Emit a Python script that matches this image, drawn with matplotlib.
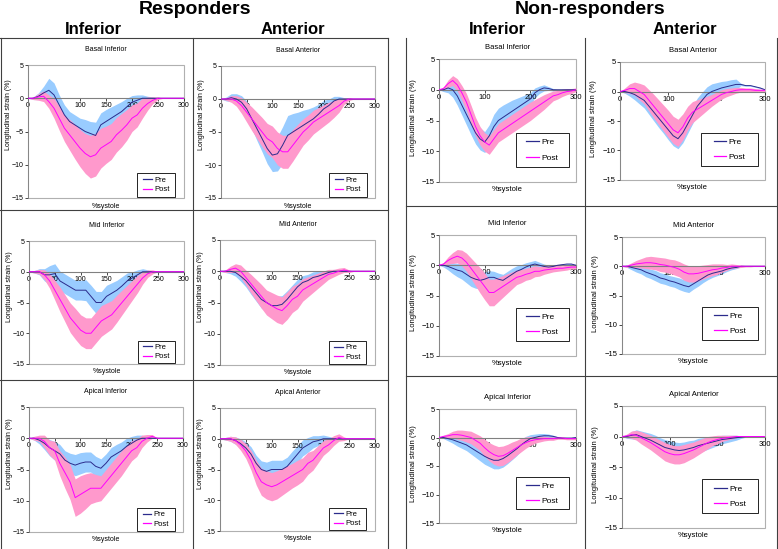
import matplotlib
matplotlib.use("Agg")
import matplotlib.pyplot as plt
from matplotlib.lines import Line2D
from matplotlib.patches import Rectangle
import numpy as np

plt.rcParams['font.family'] = ['Liberation Sans', 'DejaVu Sans']

# ---------------- data ----------------
systole = [0, 10, 20, 30, 40, 50, 60, 70, 80, 90, 100, 110, 120, 130, 140, 150,
           160, 170, 180, 190, 200, 210, 220, 230, 240, 250, 260, 270, 280, 290, 300]
r_xticks = [0, 50, 100, 150, 200, 250, 300]
n_xticks = [0, 100, 200, 300]
yticks = [5, 0, -5, -10, -15]

# Responders - Basal Inferior
r_bi_pre = [0, 0, 0.3, 0.8, 1.2, 0.5, -1.0, -2.5, -3.5, -4.0, -4.5, -5.0, -5.3, -5.6, -4.0, -3.5,
            -3.0, -2.5, -2.0, -1.3, -0.6, -0.3, 0, 0, 0, 0, 0, 0, 0, 0, 0]
r_bi_pre_sd = [0, 0.2, 0.5, 1.0, 1.8, 1.8, 1.5, 1.5, 1.5, 1.5, 1.5, 1.8, 1.8, 2.0, 1.8, 1.8,
               1.7, 1.6, 1.5, 1.3, 1.0, 0.8, 0.5, 0.3, 0.2, 0, 0, 0, 0, 0, 0]
r_bi_post = [0, 0, 0.2, 0.3, -0.5, -1.5, -3.0, -4.5, -5.5, -6.5, -7.5, -8.3, -8.8, -8.5, -7.5, -7.0,
             -6.5, -5.5, -4.8, -4.0, -3.0, -2.5, -1.5, -0.8, -0.3, 0, 0, 0, 0, 0, 0]
r_bi_post_sd = [0, 0.2, 0.5, 0.8, 1.0, 1.5, 1.8, 2.0, 2.3, 2.6, 2.8, 3.0, 3.2, 3.2, 3.0, 2.8,
                2.7, 2.6, 2.5, 2.3, 2.0, 1.8, 1.5, 1.0, 0.5, 0.2, 0, 0, 0, 0, 0]

# Responders - Basal Anterior
r_ba_pre = [0, 0, 0.2, 0, -0.5, -1.5, -3.0, -4.5, -6.0, -7.5, -8.5, -8.3, -7.0, -5.5, -5.0, -4.5,
            -4.0, -3.5, -3.0, -2.3, -1.5, -1.0, -0.3, 0, 0, 0, 0, 0, 0, 0, 0]
r_ba_pre_sd = [0, 0.3, 0.6, 0.8, 1.0, 1.2, 1.5, 1.8, 2.0, 2.3, 2.5, 2.6, 2.8, 3.0, 2.8, 2.5,
               2.3, 2.0, 1.8, 1.5, 1.3, 1.0, 0.7, 0.4, 0.2, 0, 0, 0, 0, 0, 0]
r_ba_post = [0, 0, 0, -0.3, -1.0, -2.0, -3.0, -4.0, -5.0, -6.0, -6.5, -7.5, -8.0, -8.0, -7.0, -6.0,
             -5.0, -4.3, -3.5, -3.0, -2.5, -2.0, -1.5, -1.0, -0.3, 0, 0, 0, 0, 0, 0]
r_ba_post_sd = [0, 0.2, 0.5, 0.8, 1.2, 1.5, 1.8, 2.0, 2.2, 2.3, 2.4, 2.5, 2.5, 2.5, 2.4, 2.2,
                2.0, 1.9, 1.8, 1.7, 1.6, 1.5, 1.3, 1.0, 0.5, 0.2, 0, 0, 0, 0, 0]

# Responders - Mid Inferior
r_mi_pre = [0, 0, 0, -0.5, -0.5, -0.3, -1.5, -2.0, -2.5, -3.0, -3.0, -3.0, -4.0, -5.0, -5.0, -4.0,
            -3.5, -3.0, -2.3, -1.5, -1.0, -0.5, 0, 0, 0, 0, 0, 0, 0, 0, 0]
r_mi_pre_sd = [0, 0.2, 0.5, 1.0, 1.5, 1.6, 1.6, 1.6, 1.6, 1.6, 1.6, 1.7, 1.8, 1.8, 1.8, 1.8,
               1.7, 1.6, 1.5, 1.3, 1.0, 0.8, 0.5, 0.3, 0, 0, 0, 0, 0, 0, 0]
r_mi_post = [0, 0, 0, -0.5, -1.5, -3.0, -4.5, -6.0, -7.5, -8.5, -9.5, -10.0, -10.0, -9.0, -8.0, -7.5,
             -7.0, -6.0, -5.0, -4.0, -3.0, -2.0, -1.0, -0.3, 0, 0, 0, 0, 0, 0, 0]
r_mi_post_sd = [0, 0.2, 0.4, 0.8, 1.2, 1.6, 2.0, 2.2, 2.4, 2.5, 2.5, 2.5, 2.5, 2.5, 2.5, 2.4,
                2.3, 2.2, 2.0, 1.8, 1.6, 1.4, 1.0, 0.6, 0.3, 0, 0, 0, 0, 0, 0]

# Responders - Mid Anterior
r_ma_pre = [0, 0, 0, -0.2, -0.8, -1.5, -2.5, -3.5, -4.5, -5.0, -5.5, -5.5, -5.3, -4.5, -3.5, -2.5,
            -1.8, -1.5, -1.0, -0.8, -0.5, -0.2, 0, 0, 0, 0, 0, 0, 0, 0, 0]
r_ma_pre_sd = [0, 0.2, 0.4, 0.6, 0.8, 1.0, 1.2, 1.3, 1.4, 1.5, 1.5, 1.5, 1.4, 1.4, 1.3, 1.2,
               1.1, 1.0, 0.9, 0.8, 0.6, 0.4, 0.3, 0.2, 0, 0, 0, 0, 0, 0, 0]
r_ma_post = [0, 0, 0.3, 0.5, 0, -1.0, -2.0, -3.0, -4.0, -5.0, -5.5, -6.0, -6.3, -5.5, -4.5, -4.0,
             -3.0, -2.5, -2.0, -1.5, -1.0, -0.5, -0.3, 0, 0.2, 0, 0, 0, 0, 0, 0]
r_ma_post_sd = [0, 0.2, 0.5, 0.7, 1.0, 1.2, 1.5, 1.7, 1.9, 2.0, 2.1, 2.2, 2.2, 2.2, 2.1, 2.0,
                1.8, 1.6, 1.4, 1.2, 1.0, 0.8, 0.6, 0.5, 0.4, 0.2, 0, 0, 0, 0, 0]

# Responders - Apical Inferior
r_ai_pre = [0, 0, -0.3, -0.8, -1.5, -2.0, -2.5, -3.5, -4.0, -4.3, -4.0, -3.8, -3.8, -4.5, -4.8, -4.0,
            -3.0, -2.5, -2.0, -1.3, -0.8, -0.3, 0, 0, 0, 0, 0, 0, 0, 0, 0]
r_ai_pre_sd = [0, 0.3, 0.6, 1.0, 1.3, 1.5, 1.5, 1.5, 1.6, 1.7, 1.7, 1.6, 1.6, 1.6, 1.5, 1.5,
               1.5, 1.5, 1.4, 1.3, 1.1, 0.8, 0.5, 0.2, 0, 0, 0, 0, 0, 0, 0]
r_ai_post = [0, 0, 0, -0.5, -1.5, -2.0, -4.0, -5.5, -7.0, -9.5, -9.0, -8.5, -8.0, -8.0, -8.0, -7.0,
             -6.0, -5.0, -4.0, -3.0, -2.0, -1.5, -0.5, 0, 0.3, 0, 0, 0, 0, 0, 0]
r_ai_post_sd = [0, 0.3, 0.5, 1.0, 1.2, 1.5, 2.0, 2.5, 2.8, 3.0, 3.0, 2.8, 2.5, 2.2, 2.0, 2.0,
                2.0, 2.0, 2.0, 1.8, 1.6, 1.4, 1.0, 0.6, 0.3, 0, 0, 0, 0, 0, 0]

# Responders - Apical Anterior
r_aa_pre = [0, 0, 0, -0.3, -0.8, -1.5, -2.5, -4.0, -5.0, -5.3, -5.0, -5.0, -5.0, -4.5, -3.5, -2.5,
            -1.5, -1.0, -0.5, -0.3, 0, 0, 0, 0, 0, 0, 0, 0, 0, 0, 0]
r_aa_pre_sd = [0, 0.2, 0.4, 0.6, 0.8, 1.0, 1.2, 1.3, 1.4, 1.5, 1.5, 1.5, 1.5, 1.5, 1.5, 1.4,
               1.3, 1.2, 1.0, 0.8, 0.6, 0.4, 0.2, 0, 0, 0, 0, 0, 0, 0, 0]
r_aa_post = [0, 0, 0, -0.3, -1.0, -2.0, -3.5, -5.5, -7.0, -7.5, -7.8, -7.5, -7.0, -6.5, -6.0, -5.5,
             -5.0, -4.0, -3.5, -2.5, -1.5, -1.0, -0.3, 0.2, 0, 0, 0, 0, 0, 0, 0]
r_aa_post_sd = [0, 0.2, 0.4, 0.6, 0.9, 1.2, 1.6, 2.0, 2.2, 2.3, 2.3, 2.3, 2.2, 2.1, 2.0, 2.0,
                1.9, 1.8, 1.6, 1.4, 1.2, 1.0, 0.8, 0.6, 0.3, 0, 0, 0, 0, 0, 0]

# Non-responders - Basal Inferior
n_bi_pre = [0, 0, 0.3, 0, -1.0, -2.5, -4.0, -5.5, -7.0, -8.0, -8.5, -7.5, -6.0, -5.0, -4.5, -4.0,
            -3.5, -3.0, -2.5, -2.0, -1.5, -0.5, 0, 0.3, 0.2, 0, 0, 0, 0, 0, 0]
n_bi_pre_sd = [0, 0.3, 0.8, 1.2, 1.5, 1.6, 1.7, 1.8, 1.8, 1.8, 1.7, 1.8, 2.0, 2.0, 2.0, 1.9,
               1.8, 1.6, 1.4, 1.2, 1.0, 0.8, 0.6, 0.5, 0.3, 0.2, 0, 0, 0, 0, 0]
n_bi_post = [0, 0.2, 1.0, 1.5, 0.8, -0.5, -2.0, -4.0, -6.0, -7.5, -8.5, -9.0, -8.0, -7.0, -6.5, -6.0,
             -5.5, -5.0, -4.5, -4.0, -3.5, -3.0, -2.5, -2.0, -1.5, -1.0, -0.8, -0.5, -0.3, -0.2, 0]
n_bi_post_sd = [0, 0.3, 0.6, 0.8, 1.0, 1.2, 1.4, 1.5, 1.5, 1.5, 1.5, 1.5, 1.5, 1.5, 1.5, 1.5,
                1.5, 1.5, 1.5, 1.5, 1.5, 1.4, 1.3, 1.2, 1.0, 0.8, 0.7, 0.6, 0.5, 0.4, 0.3]

# Non-responders - Basal Anterior
n_ba_pre = [0, 0, -0.2, -0.5, -1.0, -1.5, -2.5, -3.5, -4.5, -5.5, -6.5, -7.5, -8.0, -7.0, -5.5, -4.0,
            -2.5, -1.5, -0.5, 0, 0.3, 0.6, 0.8, 1.0, 1.2, 1.2, 1.0, 1.0, 0.8, 0.6, 0.3]
n_ba_pre_sd = [0, 0.3, 0.6, 0.9, 1.1, 1.3, 1.4, 1.5, 1.6, 1.6, 1.7, 1.7, 1.7, 1.7, 1.6, 1.5,
               1.4, 1.4, 1.3, 1.3, 1.2, 1.1, 1.0, 1.0, 0.9, 0.2, 0.1, 0.1, 0.1, 0.1, 0.1]
n_ba_post = [0, 0.2, 0.5, 0.5, 0, -0.5, -1.5, -2.5, -3.5, -4.5, -5.5, -6.5, -7.0, -6.0, -4.5, -3.5,
             -3.0, -2.5, -2.0, -1.5, -1.0, -0.5, -0.2, 0, 0.2, 0.3, 0.3, 0.3, 0.2, 0.2, 0.2]
n_ba_post_sd = [0, 0.4, 0.8, 1.1, 1.4, 1.6, 1.8, 2.0, 2.1, 2.2, 2.3, 2.3, 2.3, 2.2, 2.0, 1.8,
                1.6, 1.4, 1.2, 1.0, 0.9, 0.8, 0.7, 0.6, 0.5, 0.4, 0.3, 0.3, 0.3, 0.2, 0.2]

# Non-responders - Mid Inferior
n_mi_pre = [0, 0, -0.2, -0.5, -0.8, -1.0, -1.5, -2.0, -2.3, -2.5, -2.3, -2.0, -2.0, -2.3, -2.5, -2.0,
            -1.5, -1.0, -0.7, -0.3, 0, 0.2, 0, -0.2, -0.3, -0.2, 0, 0.1, 0.2, 0.2, 0]
n_mi_pre_sd = [0, 0.3, 0.6, 0.9, 1.1, 1.3, 1.4, 1.5, 1.5, 1.4, 1.2, 1.1, 1.0, 1.0, 1.0, 1.0,
               1.0, 0.9, 0.8, 0.7, 0.6, 0.6, 0.5, 0.4, 0.3, 0.2, 0.1, 0.1, 0.1, 0.1, 0]
n_mi_post = [0, 0.2, 0.8, 1.2, 1.5, 1.2, 0.5, -0.5, -1.5, -2.5, -3.5, -4.5, -4.5, -4.0, -3.5, -3.0,
             -2.5, -2.0, -1.8, -1.5, -1.3, -1.0, -1.0, -0.8, -0.7, -0.6, -0.5, -0.5, -0.4, -0.3, -0.3]
n_mi_post_sd = [0, 0.3, 0.6, 0.9, 1.1, 1.3, 1.5, 1.7, 1.9, 2.1, 2.2, 2.2, 2.2, 2.0, 1.8, 1.6,
                1.4, 1.2, 1.1, 1.0, 1.0, 0.9, 0.8, 0.7, 0.6, 0.5, 0.5, 0.4, 0.4, 0.3, 0.3]

# Non-responders - Mid Anterior
n_ma_pre = [0, 0, -0.2, -0.4, -0.6, -1.0, -1.3, -1.6, -2.0, -2.2, -2.5, -2.7, -3.0, -3.3, -3.5, -3.0,
            -2.5, -2.0, -1.5, -1.2, -1.0, -0.8, -0.5, -0.3, -0.2, 0, 0, 0, 0, 0, 0]
n_ma_pre_sd = [0, 0.2, 0.4, 0.6, 0.7, 0.8, 0.8, 0.9, 0.9, 0.9, 0.9, 0.9, 1.0, 1.0, 1.0, 0.9,
               0.9, 0.8, 0.8, 0.7, 0.6, 0.5, 0.4, 0.3, 0.2, 0.1, 0, 0, 0, 0, 0]
n_ma_post = [0, 0, 0.2, 0.4, 0.5, 0.6, 0.6, 0.5, 0.3, 0.2, 0, -0.2, -0.5, -1.0, -1.3, -1.3,
             -1.2, -1.0, -0.8, -0.6, -0.5, -0.3, -0.2, 0, 0, 0, 0, 0, 0, 0, 0]
n_ma_post_sd = [0, 0.2, 0.4, 0.6, 0.8, 1.0, 1.1, 1.1, 1.2, 1.2, 1.2, 1.3, 1.3, 1.4, 1.4, 1.4,
                1.3, 1.2, 1.1, 1.0, 0.9, 0.7, 0.5, 0.4, 0.3, 0.2, 0.1, 0.1, 0, 0, 0]

# Non-responders - Apical Inferior
n_ai_pre = [0, 0, -0.2, -0.4, -0.7, -1.0, -1.3, -1.8, -2.3, -2.8, -3.3, -3.7, -4.0, -4.0, -3.7, -3.2,
            -2.6, -2.0, -1.3, -0.7, -0.2, 0, 0.2, 0.3, 0.3, 0.2, 0, -0.1, -0.1, -0.1, 0]
n_ai_pre_sd = [0, 0.2, 0.4, 0.6, 0.8, 0.9, 1.0, 1.1, 1.2, 1.3, 1.4, 1.4, 1.5, 1.5, 1.5, 1.4,
               1.3, 1.2, 1.0, 0.9, 0.7, 0.6, 0.5, 0.4, 0.3, 0.2, 0.1, 0.1, 0.1, 0.1, 0]
n_ai_post = [0, 0.2, 0.3, 0.5, 0.5, 0.4, 0.2, 0, -0.5, -1.0, -1.8, -2.5, -3.0, -3.3, -3.2, -2.8,
             -2.3, -1.8, -1.3, -0.9, -0.6, -0.4, -0.3, -0.2, -0.2, -0.2, -0.1, -0.1, -0.2, -0.2, -0.2]
n_ai_post_sd = [0, 0.2, 0.4, 0.6, 0.8, 0.9, 1.0, 1.1, 1.2, 1.3, 1.5, 1.6, 1.7, 1.7, 1.7, 1.6,
                1.5, 1.3, 1.2, 1.0, 0.8, 0.6, 0.5, 0.4, 0.3, 0.3, 0.2, 0.2, 0.2, 0.2, 0.2]

# Non-responders - Apical Anterior
n_aa_pre = [0, 0, 0.2, 0.3, 0, -0.3, -0.6, -1.0, -1.4, -1.8, -2.0, -2.2, -2.3, -2.2, -2.0, -1.8,
            -1.5, -1.3, -1.1, -0.9, -0.7, -0.5, -0.4, -0.3, -0.2, -0.1, 0, 0, 0, 0, 0]
n_aa_pre_sd = [0, 0.3, 0.6, 0.8, 0.9, 1.0, 1.1, 1.2, 1.2, 1.3, 1.3, 1.3, 1.3, 1.3, 1.3, 1.2,
               1.2, 1.1, 1.0, 0.9, 0.8, 0.7, 0.6, 0.5, 0.4, 0.2, 0.1, 0, 0, 0, 0]
n_aa_post = [0, 0.1, 0.3, 0.2, -0.2, -0.6, -1.0, -1.5, -2.0, -2.5, -2.8, -3.0, -3.0, -2.8, -2.5, -2.2,
             -1.8, -1.4, -1.0, -0.7, -0.5, -0.3, -0.2, -0.1, 0, 0, 0, 0, 0, 0, 0]
n_aa_post_sd = [0, 0.3, 0.6, 0.8, 1.0, 1.1, 1.2, 1.3, 1.4, 1.5, 1.5, 1.5, 1.5, 1.5, 1.4, 1.3,
                1.2, 1.1, 1.0, 0.8, 0.7, 0.5, 0.4, 0.3, 0.2, 0.1, 0, 0, 0, 0, 0]

# ---------------- styling ----------------
W, H = 778, 549
PRE_BAND = '#99CCFF'
POST_BAND = '#FF99CC'
PRE_LINE = '#2B2B8C'
POST_LINE = '#FF00FF'
AX_GRAY = '#808080'
FRAME_GRAY = '#B0B0B0'

fig = plt.figure(figsize=(W / 100, H / 100), dpi=100)
fig.patch.set_facecolor('white')


def fx(px):
    return px / W


def fy(py):
    return 1 - py / H


def hline(x0, x1, y, lw=0.8, color='#404040'):
    fig.add_artist(Line2D([fx(x0), fx(x1)], [fy(y), fy(y)], color=color, lw=lw))


def vline(x, y0, y1, lw=0.8, color='#404040'):
    fig.add_artist(Line2D([fx(x), fx(x)], [fy(y0), fy(y1)], color=color, lw=lw))


def panel(rect, title, pre, pre_sd, post, post_sd, xticks, nonresp):
    x0, x1, yt, yb = rect
    ax = fig.add_axes([fx(x0), fy(yb), (x1 - x0) / W, (yb - yt) / H])
    x = np.array(systole, dtype=float)
    pre = np.array(pre, dtype=float)
    pre_sd = np.array(pre_sd, dtype=float)
    post = np.array(post, dtype=float)
    post_sd = np.array(post_sd, dtype=float)
    ax.fill_between(x, pre - pre_sd, pre + pre_sd, color=PRE_BAND, lw=0, zorder=1)
    ax.fill_between(x, post - post_sd, post + post_sd, color=POST_BAND, lw=0, zorder=2)
    ax.plot(x, pre, color=PRE_LINE, lw=0.7, zorder=3)
    ax.plot(x, post, color=POST_LINE, lw=0.7, zorder=3)
    ax.set_xlim(0, 300)
    ax.set_ylim(-15, 5)
    ax.set_xticks(xticks)
    ax.set_yticks(yticks)
    fs = 5.5 if nonresp else 5
    ax.tick_params(labelsize=fs, length=2, width=0.5, pad=1, colors='black')
    ax.spines['bottom'].set_position(('data', 0))
    ax.spines['bottom'].set_color(AX_GRAY)
    ax.spines['left'].set_color(AX_GRAY)
    ax.spines['bottom'].set_linewidth(0.8)
    ax.spines['left'].set_linewidth(0.6)
    ax.spines['top'].set_visible(False)
    ax.spines['right'].set_visible(False)
    ax.patch.set_edgecolor(FRAME_GRAY)
    ax.patch.set_linewidth(0.8)
    ax.set_title(title, fontsize=fs, pad=7 if nonresp else 10)
    ax.text(0.5, -0.035, '%systole', transform=ax.transAxes, ha='center', va='top',
            fontsize=fs)
    ax.text(-0.125 if not nonresp else -0.185, 0.52 if nonresp else 0.63,
            'Longitudinal strain (%)', transform=ax.transAxes, rotation=90,
            ha='center', va='center', fontsize=fs)
    handles = [Line2D([0], [0], color=PRE_LINE, lw=0.9),
               Line2D([0], [0], color=POST_LINE, lw=0.9)]
    if nonresp:
        bx0, bx1, by0, by1 = 0.56, 0.95, 0.12, 0.40
        leg_kw = dict(fontsize=6, handlelength=1.5, labelspacing=0.9, handletextpad=0.3)
    else:
        bx0, bx1, by0, by1 = 0.70, 0.945, 0.01, 0.19
        leg_kw = dict(fontsize=5.5, handlelength=1.1, labelspacing=0.3, handletextpad=0.3)
    ax.add_patch(Rectangle((bx0, by0), bx1 - bx0, by1 - by0, transform=ax.transAxes,
                           facecolor='white', edgecolor='black', lw=0.6, zorder=4))
    leg = ax.legend(handles, ['Pre', 'Post'], loc='center',
                    bbox_to_anchor=((bx0 + bx1) / 2, (by0 + by1) / 2),
                    frameon=False, borderpad=0, borderaxespad=0, **leg_kw)
    leg.set_zorder(5)
    return ax


panels = [
    ((28, 184, 65, 198), 'Basal Inferior', r_bi_pre, r_bi_pre_sd, r_bi_post, r_bi_post_sd, r_xticks, False),
    ((221, 375, 66, 198), 'Basal Anterior', r_ba_pre, r_ba_pre_sd, r_ba_post, r_ba_post_sd, r_xticks, False),
    ((29, 184, 241, 364), 'Mid Inferior', r_mi_pre, r_mi_pre_sd, r_mi_post, r_mi_post_sd, r_xticks, False),
    ((220, 375, 240, 365), 'Mid Anterior', r_ma_pre, r_ma_pre_sd, r_ma_post, r_ma_post_sd, r_xticks, False),
    ((29, 183, 407, 532), 'Apical Inferior', r_ai_pre, r_ai_pre_sd, r_ai_post, r_ai_post_sd, r_xticks, False),
    ((220, 375, 408, 531), 'Apical Anterior', r_aa_pre, r_aa_pre_sd, r_aa_post, r_aa_post_sd, r_xticks, False),
    ((439, 576, 59, 182), 'Basal Inferior', n_bi_pre, n_bi_pre_sd, n_bi_post, n_bi_post_sd, n_xticks, True),
    ((620, 765, 62, 180), 'Basal Anterior', n_ba_pre, n_ba_pre_sd, n_ba_post, n_ba_post_sd, n_xticks, True),
    ((439, 576, 235, 356), 'Mid Inferior', n_mi_pre, n_mi_pre_sd, n_mi_post, n_mi_post_sd, n_xticks, True),
    ((622, 765, 237, 354), 'Mid Anterior', n_ma_pre, n_ma_pre_sd, n_ma_post, n_ma_post_sd, n_xticks, True),
    ((439, 576, 409, 523), 'Apical Inferior', n_ai_pre, n_ai_pre_sd, n_ai_post, n_ai_post_sd, n_xticks, True),
    ((622, 765, 406, 528), 'Apical Anterior', n_aa_pre, n_aa_pre_sd, n_aa_post, n_aa_post_sd, n_xticks, True),
]

for p in panels:
    panel(*p)

# panel borders
# responders group
hline(0, 388, 38)
vline(0.5, 38, 549)
vline(388, 38, 549)
vline(193, 38, 549)
hline(0, 388, 210)
hline(0, 388, 380)
# non-responders group
vline(406, 38, 549)
vline(585, 38, 549)
vline(777, 38, 549)
hline(406, 777, 206)
hline(406, 777, 376)

# headers
fig.text(fx(195), fy(10), 'Responders', ha='center', va='center', fontsize=14, fontweight='bold')
fig.text(fx(93), fy(29), 'Inferior', ha='center', va='center', fontsize=12, fontweight='bold')
fig.text(fx(293), fy(29), 'Anterior', ha='center', va='center', fontsize=12, fontweight='bold')
fig.text(fx(590), fy(10), 'Non-responders', ha='center', va='center', fontsize=14, fontweight='bold')
fig.text(fx(497), fy(29), 'Inferior', ha='center', va='center', fontsize=12, fontweight='bold')
fig.text(fx(685), fy(29), 'Anterior', ha='center', va='center', fontsize=12, fontweight='bold')

fig.savefig('out.png', dpi=100, facecolor='white')
